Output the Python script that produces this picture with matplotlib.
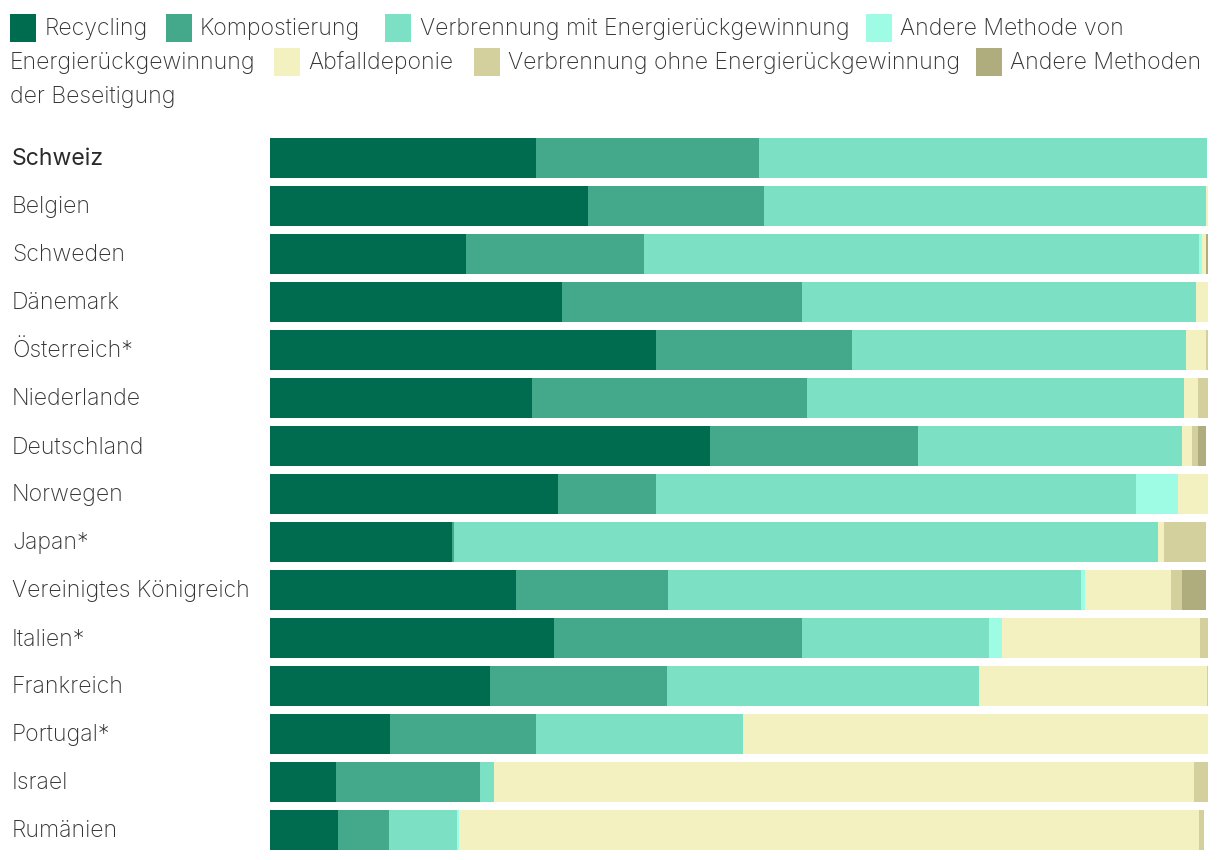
import matplotlib
matplotlib.use("Agg")
import matplotlib.pyplot as plt
from matplotlib.patches import Rectangle

plt.rcParams["font.family"] = ["Inter", "DejaVu Sans"]

countries = ["Schweiz", "Belgien", "Schweden", "Dänemark", "Österreich*", "Niederlande",
             "Deutschland", "Norwegen", "Japan*", "Vereinigtes Königreich", "Italien*",
             "Frankreich", "Portugal*", "Israel", "Rumänien"]

recycling = [28.4, 33.9, 20.9, 31.1, 41.2, 27.9, 46.9, 30.7, 19.4, 26.2, 30.3, 23.5, 12.8, 7.0, 7.2]
kompost = [23.7, 18.8, 19.0, 25.6, 20.9, 29.4, 22.2, 10.4, 0.2, 16.2, 26.4, 18.8, 15.6, 15.4, 5.5]
verbr_mit = [47.8, 47.1, 59.1, 42.0, 35.6, 40.1, 28.1, 51.2, 75.1, 44.1, 20.0, 33.3, 22.0, 1.5, 7.2]
andere_energie = [0, 0, 0.4, 0, 0, 0, 0, 4.5, 0, 0.4, 1.3, 0, 0, 0, 0.2]
deponie = [0, 0.2, 0.4, 1.3, 2.1, 1.5, 1.1, 3.2, 0.6, 9.2, 21.1, 24.3, 49.7, 74.6, 78.9]
verbr_ohne = [0, 0, 0, 0, 0.2, 1.1, 0.6, 0, 4.5, 1.1, 0.9, 0.2, 0, 1.5, 0.6]
andere_beseitigung = [0, 0, 0.2, 0, 0, 0, 0.9, 0, 0, 2.6, 0, 0, 0, 0, 0]

series = [recycling, kompost, verbr_mit, andere_energie, deponie, verbr_ohne, andere_beseitigung]
colors = ["#006c4f", "#43a98a", "#7be0c4", "#9efce5", "#f3f1c0", "#d3d09e", "#afad7d"]

W, H = 1220, 860
FS = 16.6
fig = plt.figure(figsize=(W / 100, H / 100), dpi=100)
ax = fig.add_axes([270 / W, 1 - 854 / H, 938 / W, 720 / H])

y = list(range(len(countries)))
left = [0.0] * len(countries)
for vals, c in zip(series, colors):
    ax.barh(y, vals, left=left, height=40 / 48, color=c, linewidth=0)
    left = [l + v for l, v in zip(left, vals)]

ax.set_xlim(0, 100)
ax.set_ylim(len(countries) - 0.5, -0.5)
ax.axis("off")

for i, name in enumerate(countries):
    ax.text(-258 / 9.38, i + 0.03, name, ha="left", va="center", fontsize=FS,
            color="#2a2a2a" if i == 0 else "#333333",
            fontweight="normal" if i == 0 else "light")

# legend laid out like the wrapped html legend
def px(x, yy):
    return x / W, 1 - yy / H

legend_items = [
    (10, 28, 45, "Recycling", colors[0]),
    (166, 28, 200, "Kompostierung", colors[1]),
    (385, 28, 420, "Verbrennung mit Energierückgewinnung", colors[2]),
    (866, 28, 900, "Andere Methode von", colors[3]),
    (274, 62, 308, "Abfalldeponie", colors[4]),
    (474, 62, 508, "Verbrennung ohne Energierückgewinnung", colors[5]),
    (976, 62, 1010, "Andere Methoden", colors[6]),
]
for sx, cy, tx, label, c in legend_items:
    x0, y0 = px(sx, cy + 14)
    fig.patches.append(Rectangle((x0, y0), 26 / W, 28 / H, transform=fig.transFigure,
                                 color=c, linewidth=0))
    fig.text(*px(tx, cy + 1), label, ha="left", va="center", fontsize=FS,
             color="#333333", fontweight="light")
fig.text(*px(10, 63), "Energierückgewinnung", ha="left", va="center", fontsize=FS,
         color="#333333", fontweight="light")
fig.text(*px(10, 97), "der Beseitigung", ha="left", va="center", fontsize=FS,
         color="#333333", fontweight="light")

fig.savefig("out.png", dpi=100)
